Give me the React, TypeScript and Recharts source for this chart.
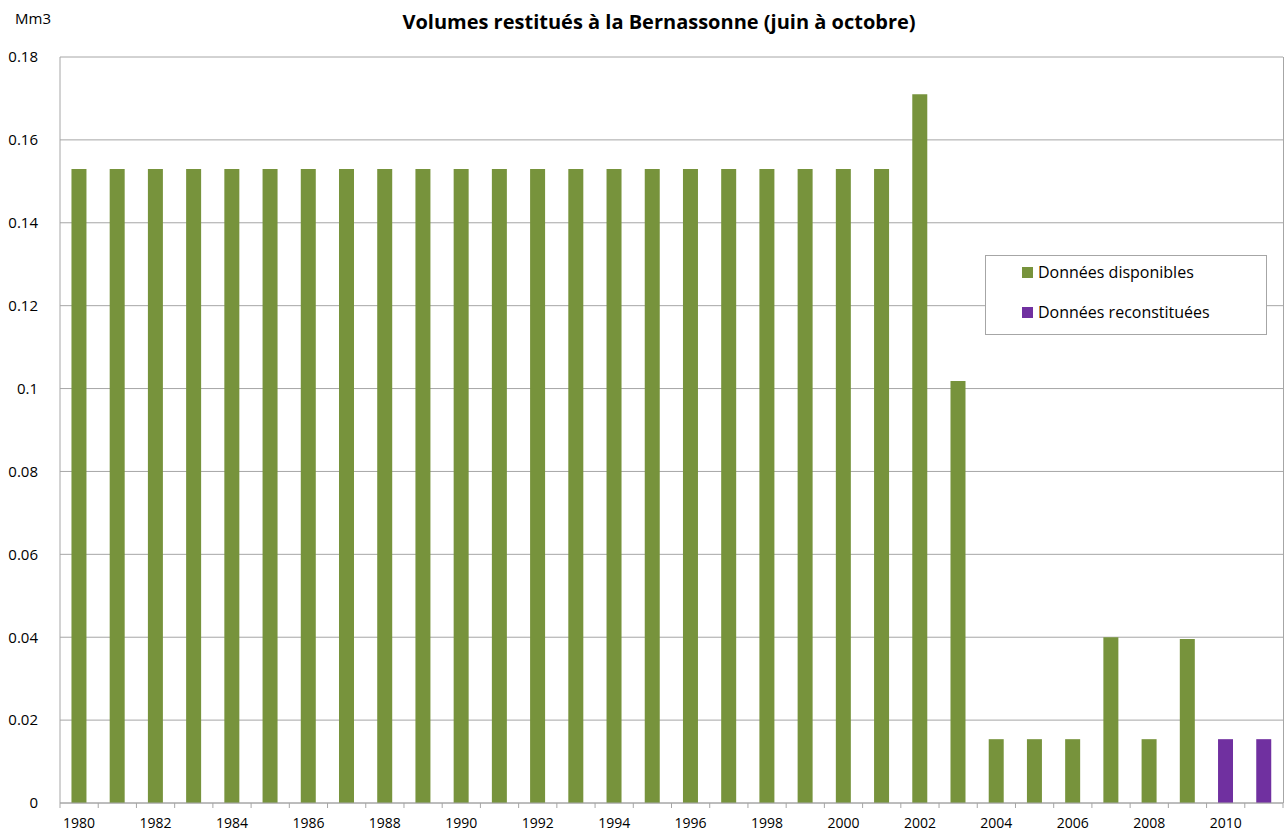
import React from 'react';
import {BarChart, Bar, XAxis, YAxis, CartesianGrid} from 'recharts';

const years = [
  1980, 1981, 1982, 1983, 1984, 1985, 1986, 1987, 1988, 1989, 1990, 1991, 1992, 1993, 1994, 1995,
  1996, 1997, 1998, 1999, 2000, 2001, 2002, 2003, 2004, 2005, 2006, 2007, 2008, 2009, 2010, 2011,
];
const disponibles = [
  0.153, 0.153, 0.153, 0.153, 0.153, 0.153, 0.153, 0.153, 0.153, 0.153, 0.153, 0.153, 0.153, 0.153,
  0.153, 0.153, 0.153, 0.153, 0.153, 0.153, 0.153, 0.153, 0.171, 0.1018, 0.0154, 0.0154, 0.0154,
  0.040, 0.0154, 0.0396, null, null,
];
const reconstituees = [
  null, null, null, null, null, null, null, null, null, null, null, null, null, null, null, null,
  null, null, null, null, null, null, null, null, null, null, null, null, null, null, 0.0154, 0.0154,
];
const yTicks = [0, 0.02, 0.04, 0.06, 0.08, 0.1, 0.12, 0.14, 0.16, 0.18];

const GREEN = '#77933C';
const PURPLE = '#7030A0';
const FONT = '"Open Sans", "Liberation Sans", sans-serif';

const data = years.map((y, i) => ({
  year: y,
  dispo: disponibles[i],
  recon: reconstituees[i],
}));

const PLOT_LEFT = 60;
const PLOT_RIGHT = 1283;
const BAND = (PLOT_RIGHT - PLOT_LEFT) / years.length;

// Excel-style x ticks: marks between categories, a label every other year
const XTick = (props: any) => {
  const {x, payload, index} = props;
  const axisY = 803;
  const left = x - BAND / 2;
  return (
    <g>
      <line x1={left} x2={left} y1={axisY} y2={axisY + 5} stroke="#a6a6a6" />
      {index === years.length - 1 && (
        <line x1={left + BAND} x2={left + BAND} y1={axisY} y2={axisY + 5} stroke="#a6a6a6" />
      )}
      {index % 2 === 0 && (
        <text x={x} y={axisY + 25} textAnchor="middle" fontSize={14} fill="#000" fontFamily={FONT}>
          {payload.value}
        </text>
      )}
    </g>
  );
};

export default function App() {
  return (
    <div style={{position: 'absolute', left: 0, top: 0, width: 1285, height: 834, background: '#fff'}}>
      <div
        style={{
          position: 'absolute',
          left: 15,
          top: 8,
          fontFamily: FONT,
          fontSize: 15,
          color: '#000',
        }}>
        Mm3
      </div>
      <div
        style={{
          position: 'absolute',
          left: 0,
          width: 1318,
          top: 8,
          textAlign: 'center',
          fontFamily: FONT,
          fontSize: 20,
          fontWeight: 'bold',
          color: '#000',
        }}>
        Volumes restitués à la Bernassonne (juin à octobre)
      </div>
      <BarChart
        width={1285}
        height={834}
        data={data}
        margin={{top: 57, right: 2, bottom: 0, left: 0}}
        barCategoryGap="30%">
        <CartesianGrid vertical={false} stroke="#a6a6a6" />
        <XAxis
          dataKey="year"
          interval={0}
          tick={<XTick />}
          tickLine={false}
          axisLine={{stroke: '#a6a6a6'}}
          height={31}
        />
        <YAxis
          width={60}
          domain={[0, 0.18]}
          ticks={yTicks}
          interval={0}
          tickLine={false}
          axisLine={{stroke: '#a6a6a6'}}
          tickMargin={16}
          tickFormatter={(v: number) => String(parseFloat(v.toFixed(2)))}
          tick={{fill: '#000', fontSize: 15, fontFamily: FONT}}
        />
        <Bar dataKey="dispo" stackId="a" fill={GREEN} isAnimationActive={false} />
        <Bar dataKey="recon" stackId="a" fill={PURPLE} isAnimationActive={false} />
      </BarChart>
      <div
        style={{
          position: 'absolute',
          left: PLOT_RIGHT - 0.5,
          top: 57,
          width: 1,
          height: 746,
          background: '#a6a6a6',
        }}
      />
      <div
        style={{
          position: 'absolute',
          left: 985,
          top: 255,
          width: 282,
          height: 80,
          boxSizing: 'border-box',
          border: '1px solid #a6a6a6',
          background: '#fff',
          fontFamily: FONT,
          fontSize: 16,
          color: '#000',
        }}>
        <div style={{position: 'absolute', left: 36, top: 5, display: 'flex', alignItems: 'center'}}>
          <span style={{display: 'inline-block', width: 11, height: 11, background: GREEN, marginRight: 5}} />
          Données disponibles
        </div>
        <div style={{position: 'absolute', left: 36, top: 45, display: 'flex', alignItems: 'center'}}>
          <span style={{display: 'inline-block', width: 11, height: 11, background: PURPLE, marginRight: 5}} />
          Données reconstituées
        </div>
      </div>
    </div>
  );
}
